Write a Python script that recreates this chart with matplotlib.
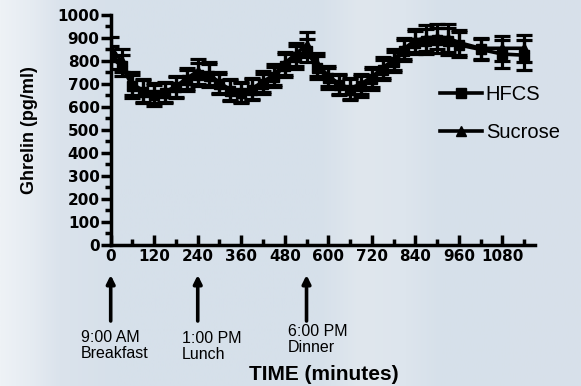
import matplotlib
matplotlib.use("Agg")
import matplotlib.pyplot as plt
import numpy as np
from matplotlib.lines import Line2D
from matplotlib.colors import LinearSegmentedColormap

plt.rcParams['font.family'] = ['Liberation Sans', 'DejaVu Sans']

# ---- data ----
time_min = [0, 30, 60, 90, 120, 150, 180, 210, 240, 270, 300, 330, 360, 390,
            420, 450, 480, 510, 540, 570, 600, 630, 660, 690, 720, 750, 780,
            810, 840, 870, 900, 930, 960, 1020, 1080, 1140]
hfcs = [815, 780, 690, 665, 650, 660, 685, 715, 740, 735, 700, 670, 660, 675,
        700, 730, 780, 815, 845, 770, 725, 695, 675, 690, 720, 760, 795,
        845, 880, 885, 890, 885, 870, 850, 830, 825]
hfcs_sem = [50, 45, 50, 50, 45, 45, 45, 45, 50, 50, 45, 45, 45, 45,
            45, 45, 50, 50, 50, 50, 45, 45, 45, 45, 45, 45, 45,
            45, 50, 55, 55, 60, 55, 45, 60, 65]
sucrose = [855, 800, 700, 670, 660, 665, 690, 725, 755, 745, 705, 675, 665, 680,
           710, 740, 790, 830, 870, 785, 735, 700, 680, 700, 730, 770, 805,
           855, 890, 900, 905, 900, 880, 855, 855, 855]
sucrose_sem = [50, 50, 50, 50, 45, 45, 45, 45, 55, 50, 45, 45, 45, 45,
               45, 45, 50, 50, 55, 50, 45, 45, 45, 45, 45, 45, 45,
               45, 50, 55, 55, 60, 55, 45, 55, 60]
series_names = ["HFCS", "Sucrose"]
x_ticks = [0, 120, 240, 360, 480, 600, 720, 840, 960, 1080]
y_ticks = [0, 100, 200, 300, 400, 500, 600, 700, 800, 900, 1000]
meal_times = [0, 240, 540]
meal_labels = ["9:00 AM\nBreakfast", "1:00 PM\nLunch", "6:00 PM\nDinner"]

W, H = 581, 386
fig = plt.figure(figsize=(W / 100, H / 100), dpi=100)
fig.patch.set_facecolor('#d6e0ea')

# soft background (light blue with pale "columns")
bg = fig.add_axes([0, 0, 1, 1], zorder=-10)
bg.axis('off')
bg_cmap = LinearSegmentedColormap.from_list(
    'bg', [(0.00, '#eef2f6'), (0.05, '#e6ecf2'), (0.10, '#dbe3ec'),
           (0.20, '#d6e0ea'), (0.55, '#d6e0ea'), (0.62, '#e0e7ee'),
           (0.70, '#dde5ed'), (0.76, '#d6e0ea'), (1.00, '#d8e1ea')])
bg.imshow(np.linspace(0, 1, 256)[None, :], cmap=bg_cmap, aspect='auto',
          extent=(0, 1, 0, 1))
bg.set_xlim(0, 1)
bg.set_ylim(0, 1)

left, right = 110.7 / W, 535 / W
bottom, top = 1 - 244.7 / H, 1 - 15 / H
ax = fig.add_axes([left, bottom, right - left, top - bottom])
ax.set_facecolor('none')

common = dict(color='black', lw=2.6, elinewidth=2.3, capsize=5.5, capthick=2.3)
ax.errorbar(time_min, hfcs, yerr=hfcs_sem, marker='s', ms=6.5, **common)
ax.errorbar(time_min, sucrose, yerr=sucrose_sem, marker='^', ms=7.5, **common)

ax.set_xlim(0, 1170)
ax.set_ylim(0, 1000)
for s in ['top', 'right']:
    ax.spines[s].set_visible(False)
for s in ['left', 'bottom']:
    ax.spines[s].set_linewidth(2.5)

tick_font = dict(family='DejaVu Sans', fontweight='bold', fontsize=11)
ax.set_xticks(x_ticks)
ax.set_xticklabels([str(v) for v in x_ticks], **tick_font)
ax.set_xticks([v + 60 for v in x_ticks], minor=True)
ax.set_yticks(y_ticks)
ax.set_yticklabels([str(v) for v in y_ticks], **tick_font)
ax.set_yticks([v + 50 for v in y_ticks[:-1]], minor=True)
ax.tick_params(axis='x', which='major', direction='in', length=7, width=2.5, pad=3)
ax.tick_params(axis='x', which='minor', direction='in', length=4.5, width=2.5)
ax.tick_params(axis='y', which='major', direction='out', length=7, width=2.5, pad=1)
ax.tick_params(axis='y', which='minor', direction='out', length=4, width=2.5)

ax.set_ylabel("Ghrelin (pg/ml)", fontweight='bold', fontsize=13)
ax.yaxis.set_label_coords((38 - 110.7) / 424.3, 0.5)

# legend
handles = [Line2D([], [], color='black', lw=2.6, marker='s', ms=6.5),
           Line2D([], [], color='black', lw=2.6, marker='^', ms=7.5)]
ax.legend(handles, series_names, loc='upper left', bbox_to_anchor=(0.775, 0.695),
          frameon=False, fontsize=14.5, handlelength=2.1, handletextpad=0.2,
          labelspacing=0.95, borderpad=0, borderaxespad=0)

# meal arrows and labels (x in data, y in axes fraction)
trans = ax.get_xaxis_transform()
def py(pix):
    return (244.7 - pix) / (244.7 - 15)
text_dx = [-30, -16, -19]
text_top = [330, 331, 324]
for t, lab, dx, tp in zip(meal_times, meal_labels, text_dx, text_top):
    ax.annotate("", xy=(t, py(275)), xytext=(t, py(321)), xycoords=trans,
                textcoords=trans, annotation_clip=False,
                arrowprops=dict(arrowstyle='-|>', color='black', lw=2.6,
                                mutation_scale=12, shrinkA=0, shrinkB=0))
    ax.annotate(lab, xy=(t, py(tp)), xycoords=trans, xytext=(dx, 0),
                textcoords='offset pixels', ha='left', va='top', fontsize=11.5,
                linespacing=1.05, annotation_clip=False)

fig.text(324 / W, 1 - 375 / H, "TIME (minutes)", ha='center', va='center',
         fontweight='bold', fontsize=15)

fig.savefig("out.png", dpi=100, facecolor=fig.get_facecolor())
